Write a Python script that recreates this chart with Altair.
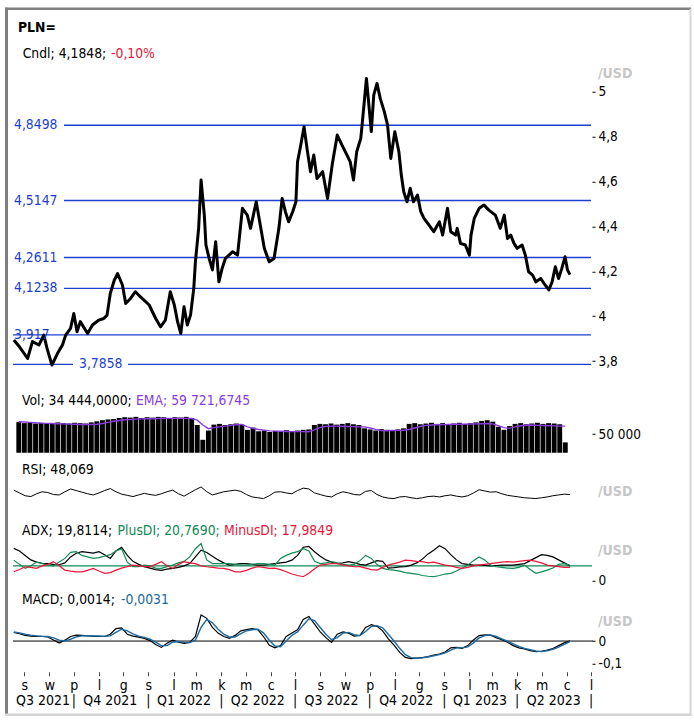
import altair as alt
import pandas as pd

FONT = "'DejaVu Sans Condensed', 'Liberation Sans', sans-serif"
BLUE = "#1d3fd0"
RED = "#e8173a"
GREEN = "#128a55"
PURPLE = "#8a3be0"
MACD_BLUE = "#1c6aa0"
GREY_TXT = "#c6c6c6"
HS = 13.8   # header font size
AS = 13.5   # axis label font size

# ---------------- data ----------------
price_dates = [
    "2021-07-19", "2021-07-26", "2021-08-05", "2021-08-11", "2021-08-19", "2021-08-25", "2021-08-29",
    "2021-09-04", "2021-09-11", "2021-09-17", "2021-09-21", "2021-09-27", "2021-10-01", "2021-10-05",
    "2021-10-09", "2021-10-18", "2021-10-24", "2021-11-01", "2021-11-07", "2021-11-11", "2021-11-15",
    "2021-11-20", "2021-11-24", "2021-11-30", "2021-12-04", "2021-12-10", "2021-12-16", "2021-12-22",
    "2022-01-02", "2022-01-10", "2022-01-16", "2022-01-22", "2022-01-28", "2022-02-02", "2022-02-06",
    "2022-02-10", "2022-02-14", "2022-02-18", "2022-02-22", "2022-02-26", "2022-02-28", "2022-03-04",
    "2022-03-07", "2022-03-11", "2022-03-13", "2022-03-17", "2022-03-21", "2022-03-25", "2022-03-29",
    "2022-04-02", "2022-04-06", "2022-04-15", "2022-04-21", "2022-04-27", "2022-05-03", "2022-05-07",
    "2022-05-14", "2022-05-19", "2022-05-24", "2022-05-30", "2022-06-05", "2022-06-11", "2022-06-15",
    "2022-06-19", "2022-06-23", "2022-06-28", "2022-07-02", "2022-07-04", "2022-07-08", "2022-07-12",
    "2022-07-16", "2022-07-20", "2022-07-24", "2022-07-28", "2022-08-04", "2022-08-10", "2022-08-16",
    "2022-08-22", "2022-08-28", "2022-09-03", "2022-09-07", "2022-09-11", "2022-09-15", "2022-09-20",
    "2022-09-22", "2022-09-27", "2022-09-30", "2022-10-03", "2022-10-06", "2022-10-10", "2022-10-14",
    "2022-10-19", "2022-10-23", "2022-10-27", "2022-11-01", "2022-11-06", "2022-11-09", "2022-11-12",
    "2022-11-16", "2022-11-20", "2022-11-24", "2022-11-29", "2022-12-03", "2022-12-07", "2022-12-13",
    "2022-12-19", "2022-12-26", "2022-12-30", "2023-01-05", "2023-01-09", "2023-01-15", "2023-01-17",
    "2023-01-21", "2023-01-27", "2023-02-01", "2023-02-03", "2023-02-07", "2023-02-13", "2023-02-19",
    "2023-02-25", "2023-03-05", "2023-03-11", "2023-03-16", "2023-03-20", "2023-03-24", "2023-03-28",
    "2023-04-01", "2023-04-07", "2023-04-11", "2023-04-15", "2023-04-20", "2023-04-24", "2023-04-30",
    "2023-05-04", "2023-05-10", "2023-05-14", "2023-05-18", "2023-05-22", "2023-05-26", "2023-05-30",
    "2023-06-02", "2023-06-05",
]
price_close = [
    3.894, 3.864, 3.812, 3.887, 3.872, 3.916, 3.857,
    3.783, 3.835, 3.872, 3.916, 3.946, 4.012, 3.931,
    3.976, 3.923, 3.961, 3.983, 3.990, 4.005, 4.101,
    4.161, 4.190, 4.139, 4.057, 4.079, 4.109, 4.087,
    4.050, 3.990, 3.953, 3.983, 4.109, 4.050, 3.976,
    3.923, 4.042, 3.961, 4.005, 4.124, 4.242, 4.391,
    4.606, 4.450, 4.317, 4.257, 4.206, 4.331, 4.153,
    4.213, 4.257, 4.287, 4.272, 4.480, 4.450, 4.391,
    4.509, 4.406, 4.302, 4.242, 4.257, 4.391, 4.524,
    4.465, 4.420, 4.465, 4.509, 4.687, 4.762, 4.843,
    4.739, 4.643, 4.717, 4.613, 4.643, 4.524, 4.680,
    4.806, 4.760, 4.717, 4.687, 4.606, 4.732, 4.791,
    4.865, 5.058, 4.940, 4.821, 4.984, 5.036, 4.969,
    4.910, 4.851, 4.702, 4.821, 4.732, 4.628, 4.554,
    4.509, 4.569, 4.509, 4.539, 4.465, 4.435, 4.406,
    4.376, 4.420, 4.361, 4.480, 4.376, 4.361, 4.391,
    4.324, 4.317, 4.272, 4.361, 4.435, 4.480, 4.495,
    4.472, 4.450, 4.391, 4.450, 4.346, 4.361, 4.324,
    4.302, 4.317, 4.272, 4.198, 4.183, 4.153, 4.168,
    4.146, 4.117, 4.153, 4.220, 4.168, 4.213, 4.265,
    4.206, 4.185,
]

level_values = [4.8498, 4.5147, 4.2611, 4.1238, 3.917, 3.7858]
level_labels = ["4,8498", "4,5147", "4,2611", "4,1238", "3,917", "3,7858"]

week_start = "2021-07-19"   # weekly samples of the indicator panes
volume = [
    83000, 80000, 82000, 79000, 81000, 80000, 78000, 82000, 80000, 79000, 81000, 80000, 79000, 82000,
    85000, 88000, 90000, 91000,
    94000, 96000, 95000, 97000, 94000, 96000, 95000, 97000, 96000, 94000, 96000, 95000, 97000, 94000,
    75000, 35000, 60000,
    76000, 78000, 75000, 77000, 79000, 76000,
    62000, 68000,
    58000, 60000, 56000, 59000, 57000, 61000, 58000, 60000, 62000, 63000,
    75000, 78000, 77000, 79000, 76000, 78000, 80000, 77000, 75000,
    66000, 63000, 60000, 64000, 62000, 59000, 63000, 66000,
    78000, 80000, 77000, 79000, 81000, 78000, 80000, 77000, 79000, 81000, 78000, 80000, 82000,
    86000, 88000, 84000,
    70000, 62000, 72000,
    78000, 80000, 77000, 79000, 81000, 78000, 80000, 79000, 77000,
    28000,
]
ema = [
    83800, 83000, 82000, 81000, 80000, 79500, 79000, 78500, 78000, 77500, 77000, 76500, 76500, 76500,
    77000, 79000, 82000, 85000,
    87000, 89000, 90000, 91000, 91500, 92000, 92000, 92500, 92500, 93000, 93000, 93000, 93000, 92500,
    88000, 75000, 65000,
    68000, 70000, 72000, 74000, 75500, 76500,
    70000, 66000, 63000, 61000, 59000, 58500, 58000, 57500, 57000, 57000, 57000, 56800,
    62000, 68000, 71000, 72000, 72000, 71500, 71000, 70500, 70000, 70000,
    67000, 63000, 60000, 59500, 60000, 60500, 61000,
    63000, 67000, 71000, 74000, 75000, 75500, 76000, 76500, 77000, 77000, 77500, 77600, 78000, 78500, 79000,
    78000, 73000, 68000, 66000,
    70000, 73000, 74500, 74900, 74000, 73500, 73000, 72500, 72000, 72000,
]
rsi = [
    59, 52, 45, 43, 50, 55, 53, 48, 47, 55,
    62, 58, 54, 50, 47, 52, 58, 63, 55, 49,
    46, 43, 47, 51, 48, 46, 50, 55, 59, 50,
    44, 52, 60, 67, 55, 47, 51, 55, 57, 59,
    56, 48, 42, 40, 38, 45, 54, 55, 52, 50,
    58, 64, 62, 52, 48, 44, 42, 50, 55, 52,
    48, 47, 56, 58, 48, 42, 39, 38, 42, 43,
    40, 38, 40, 43, 44, 42, 45, 47, 44, 42,
    45, 52, 60, 57, 54, 55, 50, 46, 44, 42,
    40, 39, 38, 40, 42, 45, 47, 49, 48,
]
adx = [
    43.5, 40, 34, 28, 25, 23.5, 23, 22, 21.5, 24,
    32, 37, 39, 38, 37, 39, 35, 30, 40, 45,
    34, 26, 22, 19, 17, 15, 14, 15.5, 16.5, 18,
    20, 23, 32, 41, 38, 33, 28, 24, 21, 22,
    23, 23, 22, 21, 21, 22, 23, 24, 25, 27.7,
    34, 45, 46, 39, 33, 28, 25, 23, 24, 25.6,
    24, 22, 21, 24, 27, 26, 17, 17.5, 18.5, 19,
    21, 24, 29, 36, 41, 47, 43, 35, 28, 23,
    22, 21, 21, 20.5, 20, 20.5, 21, 21, 21, 22,
    23, 27, 31, 35, 34, 32, 28, 24, 20,
]
plus_di = [
    27.7, 22, 16.6, 20, 25, 23, 21, 20, 25, 30,
    38, 39, 34, 32, 30, 31, 33, 35, 40, 43,
    25, 19, 19, 21, 20, 17, 16.6, 19, 21, 24,
    26, 32, 43, 50, 28, 23, 23, 23, 23, 22,
    21, 21, 22, 23, 23, 22, 21, 30, 34, 37,
    39, 43, 40, 26, 23, 24, 25.6, 24, 22, 21,
    22, 27, 34, 30, 22, 16.6, 15, 14.3, 13, 11,
    10, 9, 7, 6, 5.4, 7, 9, 10, 13, 17,
    21, 27, 32, 28, 21, 18.8, 18, 17, 16.6, 18,
    21, 15, 10, 12, 14.3, 17, 22, 23, 20.8,
]
minus_di = [
    12, 15, 18.8, 18, 16.6, 20, 22, 25.6, 20, 14.3,
    13, 12, 12, 14, 16.6, 13, 10, 11, 14.3, 17,
    19, 21, 20, 19, 19, 22, 25.6, 20, 16.6, 22,
    25.6, 24, 23, 20, 18.8, 18, 17, 16.6, 15, 12,
    12, 14, 17, 18.8, 18, 16.6, 17, 15, 12, 9,
    7, 5.4, 10, 16, 21, 22, 23, 23, 21, 20,
    18.8, 19, 17, 15, 14.3, 18, 21, 23, 25, 27.7,
    27, 26, 25.6, 24, 25, 23, 21, 20, 18, 16.6,
    18, 20, 21, 22, 23, 24, 25, 25.6, 25, 26,
    27, 27.7, 26, 24, 21, 20, 19, 18, 18,
]
macd = [
    0.038, 0.032, 0.025, 0.022, 0.021, 0.020, 0.018, 0.005, -0.009, 0.004,
    0.020, 0.026, 0.025, 0.023, 0.022, 0.020, 0.020, 0.030, 0.055, 0.058,
    0.030, 0.022, 0.017, 0.012, 0.002, -0.015, -0.028, -0.010, 0.004, -0.005,
    -0.010, -0.006, 0.020, 0.115, 0.100, 0.060, 0.035, 0.020, 0.012, 0.025,
    0.045, 0.050, 0.055, 0.050, 0.020, -0.018, -0.030, -0.020, 0.020, 0.035,
    0.050, 0.095, 0.108, 0.075, 0.040, 0.015, -0.006, 0.030, 0.040, 0.035,
    0.022, 0.025, 0.060, 0.072, 0.065, 0.045, 0.010, -0.018, -0.050, -0.072,
    -0.077, -0.075, -0.073, -0.068, -0.062, -0.057, -0.048, -0.030, -0.028, -0.032,
    -0.020, 0.005, 0.024, 0.027, 0.026, 0.015, 0.006, -0.005, -0.020, -0.030,
    -0.035, -0.042, -0.047, -0.045, -0.040, -0.033, -0.020, -0.008, 0.001,
]
macd_signal = [
    0.040, 0.036, 0.030, 0.026, 0.023, 0.021, 0.020, 0.014, 0.004, 0.000,
    0.008, 0.018, 0.023, 0.024, 0.023, 0.022, 0.021, 0.023, 0.038, 0.052,
    0.045, 0.032, 0.022, 0.016, 0.008, -0.005, -0.020, -0.020, -0.005, -0.002,
    -0.006, -0.007, 0.004, 0.060, 0.095, 0.080, 0.052, 0.030, 0.018, 0.018,
    0.033, 0.045, 0.050, 0.052, 0.036, 0.005, -0.022, -0.025, 0.000, 0.025,
    0.040, 0.070, 0.098, 0.090, 0.060, 0.030, 0.006, 0.015, 0.035, 0.038,
    0.028, 0.024, 0.042, 0.064, 0.068, 0.058, 0.030, 0.000, -0.032, -0.060,
    -0.073, -0.076, -0.074, -0.070, -0.065, -0.060, -0.052, -0.040, -0.030, -0.030,
    -0.026, -0.008, 0.014, 0.024, 0.027, 0.020, 0.010, 0.000, -0.012, -0.024,
    -0.032, -0.038, -0.044, -0.046, -0.043, -0.037, -0.027, -0.015, -0.003,
]

quarter_labels = ["Q3 2021", "Q4 2021", "Q1 2022", "Q2 2022", "Q3 2022", "Q4 2022", "Q1 2023", "Q2 2023"]
quarter_centers = ["2021-08-24", "2021-11-15", "2022-02-14", "2022-05-16",
                   "2022-08-15", "2022-11-15", "2023-02-14", "2023-05-16"]
quarter_bounds = ["2021-10-01", "2022-01-01", "2022-04-01", "2022-07-01",
                  "2022-10-01", "2023-01-01", "2023-04-01", "2023-07-01"]

# ---------------- tables ----------------
price = pd.DataFrame({"date": pd.to_datetime(price_dates), "v": price_close})
levels = pd.DataFrame({"v": level_values, "label": level_labels})
weekly = pd.DataFrame({
    "date": pd.date_range(week_start, periods=len(volume), freq="7D"),
    "vol": volume, "ema": ema, "rsi": rsi, "adx": adx, "pdi": plus_di, "mdi": minus_di,
    "macd": macd, "sig": macd_signal,
})
quarters = pd.DataFrame({"date": pd.to_datetime(quarter_centers), "label": quarter_labels})
seps = pd.DataFrame({"date": pd.to_datetime(quarter_bounds), "label": ["|"] * len(quarter_bounds)})
month_ticks = [alt.DateTime(year=d.year, month=d.month, date=1)
               for d in pd.date_range("2021-08-01", "2023-07-01", freq="MS")]

W = 578
xscale = alt.Scale(domain=[alt.DateTime(year=2021, month=7, date=18),
                           alt.DateTime(year=2023, month=7, date=1)])
x_plain = alt.X("date:T", scale=xscale, axis=None)

AX = dict(orient="right", tickSize=3, tickColor="black", tickWidth=1, domain=False, grid=False,
          labelFont=FONT, labelFontSize=AS, labelColor="black", labelPadding=3, title=None, offset=1)
COMMA = "replace(format(datum.value, '~g'), '.', ',')"


def txt(text, x, y, color="black", bold=False, size=HS, baseline="alphabetic", align="left"):
    return alt.Chart(pd.DataFrame({"t": [text]})).mark_text(
        align=align, baseline=baseline, font=FONT, fontSize=size,
        fontWeight="bold" if bold else "normal", color=color,
    ).encode(text="t:N", x=alt.value(x), y=alt.value(y))


def frame_rule(x, x2, y, y2, color, width):
    return alt.Chart(pd.DataFrame({"k": [0]})).mark_rule(color=color, strokeWidth=width).encode(
        x=alt.value(x), x2=alt.value(x2), y=alt.value(y), y2=alt.value(y2))


# ---------------- price panel ----------------
y_p = alt.Y("v:Q", scale=alt.Scale(domain=[3.6819, 5.1054], nice=False, zero=False),
            axis=alt.Axis(values=[3.8, 4, 4.2, 4.4, 4.6, 4.8, 5], labelExpr=COMMA, **AX))
lvl_rule = dict(color=BLUE, strokeWidth=1.4)
lvl_text = dict(align="left", baseline="middle", font=FONT, fontSize=HS, color=BLUE)
price_panel = alt.layer(
    alt.Chart(levels.iloc[:4]).mark_rule(**lvl_rule).encode(y=y_p, x=alt.value(51), x2=alt.value(W)),
    alt.Chart(levels.iloc[4:5]).mark_rule(**lvl_rule).encode(y=y_p, x=alt.value(0), x2=alt.value(W)),
    alt.Chart(levels.iloc[5:6]).mark_rule(**lvl_rule).encode(y=y_p, x=alt.value(0), x2=alt.value(60)),
    alt.Chart(levels.iloc[5:6]).mark_rule(**lvl_rule).encode(y=y_p, x=alt.value(115), x2=alt.value(W)),
    alt.Chart(price).mark_line(color="black", strokeWidth=3, strokeJoin="round").encode(x=x_plain, y=y_p),
    alt.Chart(levels.iloc[:5]).mark_text(**lvl_text).encode(y=y_p, x=alt.value(1), text="label:N"),
    alt.Chart(levels.iloc[5:6]).mark_text(**lvl_text).encode(y=y_p, x=alt.value(66), text="label:N"),
    txt("PLN=", 5, -36, bold=True),
    txt("Cndl; 4,1848; ", 9.7, -10),
    txt("-0,10%", 98, -10, color=RED),
    txt("/USD", 585, 6, color=GREY_TXT, bold=True, size=14, baseline="middle"),
    frame_rule(-8, 678, -59, -59, "#7f7f7f", 2.5),
    frame_rule(-6.5, -6.5, -60, 647, "#7f7f7f", 3),
    frame_rule(677.5, 677.5, -59, 648, "#d6d6d6", 2),
    frame_rule(-8, 679, 647, 647, "#d6d6d6", 2.5),
).properties(width=W, height=320)

# ---------------- volume panel ----------------
vol_scale = alt.Scale(domain=[-13514, 175676], nice=False)
vol_axis = alt.Axis(values=[50000], labelExpr="replace(format(datum.value, ','), ',', ' ')", **AX)
vol_panel = alt.layer(
    alt.Chart(weekly).mark_bar(color="black", size=4.9).encode(
        x=x_plain, y=alt.Y("vol:Q", scale=vol_scale, axis=vol_axis)),
    alt.Chart(weekly).mark_line(color=PURPLE, strokeWidth=1.4).encode(
        x=x_plain, y=alt.Y("ema:Q", scale=vol_scale, axis=vol_axis)),
    txt("Vol; 34 444,0000; ", 9, 17),
    txt("EMA; 59 721,6745", 123, 17, color=PURPLE),
).properties(width=W, height=70)

# ---------------- RSI panel ----------------
rsi_panel = alt.layer(
    alt.Chart(weekly).mark_line(color="black", strokeWidth=1).encode(
        x=x_plain, y=alt.Y("rsi:Q", scale=alt.Scale(domain=[-20, 140], nice=False, zero=False), axis=None)),
    txt("RSI; 48,069", 9, 16),
    txt("/USD", 585, 34, color=GREY_TXT, bold=True, size=14, baseline="middle"),
).properties(width=W, height=64)

# ---------------- ADX panel ----------------
adx_scale = alt.Scale(domain=[-14.77, 79.19], nice=False, zero=False)
adx_axis = alt.Axis(values=[0], labelExpr=COMMA, **AX)
adx_panel = alt.layer(
    alt.Chart(pd.DataFrame({"lvl": [20]})).mark_rule(color=GREEN, strokeWidth=1.3).encode(
        y=alt.Y("lvl:Q", scale=adx_scale, axis=adx_axis), x=alt.value(0), x2=alt.value(W + 1)),
    alt.Chart(weekly).mark_line(color="black", strokeWidth=1.2).encode(
        x=x_plain, y=alt.Y("adx:Q", scale=adx_scale, axis=adx_axis)),
    alt.Chart(weekly).mark_line(color=GREEN, strokeWidth=1.2).encode(
        x=x_plain, y=alt.Y("pdi:Q", scale=adx_scale, axis=adx_axis)),
    alt.Chart(weekly).mark_line(color=RED, strokeWidth=1.2).encode(
        x=x_plain, y=alt.Y("mdi:Q", scale=adx_scale, axis=adx_axis)),
    txt("ADX; 19,8114; ", 9, 13),
    txt("PlusDI; 20,7690; ", 104.6, 13, color=GREEN),
    txt("MinusDI; 17,9849", 211, 13, color=RED),
    txt("/USD", 585, 29, color=GREY_TXT, bold=True, size=14, baseline="middle"),
).properties(width=W, height=70)

# ---------------- MACD panel ----------------
macd_scale = alt.Scale(domain=[-0.1132, 0.2172], nice=False, zero=False)
macd_axis = alt.Axis(
    values=[-0.1, 0],
    labelExpr="datum.value < 0 ? '-' + replace(format(-datum.value, '~g'), '.', ',') : "
              "replace(format(datum.value, '~g'), '.', ',')",
    **AX)
month_axis = alt.Axis(
    orient="bottom", values=month_ticks,
    labelExpr="['s','l','m','k','m','c','l','s','w','p','l','g'][month(datum.value)]",
    tickSize=4, tickColor="#444444", tickWidth=1, domain=False, grid=False,
    labelFont=FONT, labelFontSize=14, labelColor="black", labelPadding=3, labelAngle=0,
    labelFlush=False, labelOverlap=False, offset=5, title=None)
x_bottom = alt.X("date:T", scale=xscale, axis=month_axis)
macd_panel = alt.layer(
    alt.Chart(pd.DataFrame({"z": [0]})).mark_rule(color="black", strokeWidth=1).encode(
        y=alt.Y("z:Q", scale=macd_scale, axis=macd_axis), x=alt.value(0), x2=alt.value(W + 2)),
    alt.Chart(weekly).mark_line(color="black", strokeWidth=1.2).encode(
        x=x_bottom, y=alt.Y("macd:Q", scale=macd_scale, axis=macd_axis)),
    alt.Chart(weekly).mark_line(color=MACD_BLUE, strokeWidth=1.4).encode(
        x=x_bottom, y=alt.Y("sig:Q", scale=macd_scale, axis=macd_axis)),
    alt.Chart(quarters).mark_text(align="center", baseline="middle", font=FONT, fontSize=14,
                                  color="black").encode(x=x_bottom, y=alt.value(109), text="label:N"),
    alt.Chart(seps).mark_text(align="center", baseline="middle", font=FONT, fontSize=14,
                              color="black").encode(x=x_bottom, y=alt.value(109), text="label:N"),
    txt("MACD; 0,0014; ", 9, 12),
    txt("-0,0031", 108, 12, color=MACD_BLUE),
    txt("/USD", 585, 30, color=GREY_TXT, bold=True, size=14, baseline="middle"),
).properties(width=W, height=75)

chart = alt.vconcat(
    price_panel, vol_panel, rsi_panel, adx_panel, macd_panel, spacing=0, bounds="flush"
).properties(
    padding={"left": 3, "top": 5.75, "right": 0, "bottom": 0}, background="white"
).configure_view(stroke=None)

chart.save("out.html", embed_options={"renderer": "svg", "actions": False})
